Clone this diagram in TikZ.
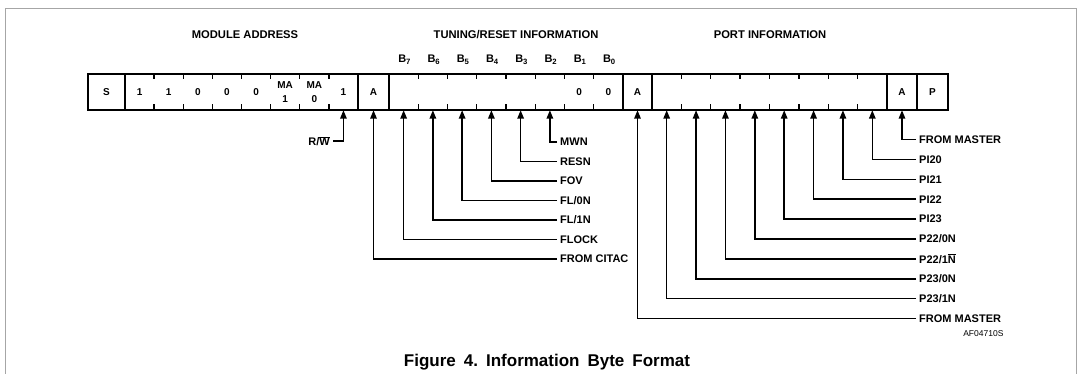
\documentclass[tikz,border=0pt]{standalone}
\usepackage{fontspec}
\setmainfont{Liberation Sans}
\usetikzlibrary{arrows.meta, positioning}

\tikzset{
  cell/.style={minimum width=29pt, minimum height=36pt, inner sep=0pt, font=\fontsize{10}{11}\selectfont\bfseries},
  lbl/.style={anchor=west, inner sep=3pt, font=\fontsize{11}{13}\selectfont\bfseries},
  head/.style={font=\fontsize{11.2}{13}\selectfont\bfseries},
  bitname/.style={font=\fontsize{11}{13}\selectfont\bfseries},
  sig/.style={line width=1.5pt, -{Triangle[width=6.5pt,length=8.5pt]}},
}

\begin{document}
\begin{tikzpicture}[x=1pt, y=-1pt]
  \useasboundingbox (0,0) rectangle (1080,374);
  \draw[gray!70, line width=0.8pt] (5,374) -- (5,8) -- (1076,8) -- (1076,374);

  \node[head] (hmod) at (245,35) {MODULE ADDRESS};
  \node[head] (htun) at (516,35) {TUNING/RESET INFORMATION};
  \node[head] (hport) at (770,35) {PORT INFORMATION};

  % register
  \draw[line width=2pt] (88,74) rectangle (948,110);
  \foreach \x in {125,358,389,623,652,887,917}
    \draw[line width=1.6pt] (\x,74) -- (\x,110);
  \foreach \s/\w in {125/29.125, 389/29.25, 652/29.375}
    \foreach \k in {1,...,7}
      \draw[line width=1.4pt] ({\s+\k*\w},74) -- ++(0,5.5) ({\s+\k*\w},110) -- ++(0,-5.5);

  \node[cell, minimum width=37pt] (s) at (106.5,92) {S};
  \foreach \i/\t in {0/1, 1/1, 2/0, 3/0, 4/0, 5/{MA\\[3pt]1}, 6/{MA\\[3pt]0}, 7/1}
    \node[cell, align=center] (m\i) at ({125+29.125*(\i+0.5)},92) {\t};
  \node[cell] (a1) at (373.5,92) {A};
  \foreach \i/\t in {0/{}, 1/{}, 2/{}, 3/{}, 4/{}, 5/{}, 6/0, 7/0}
    \node[cell] (t\i) at ({389+29.25*(\i+0.5)},92) {\t};
  \node[cell] (a2) at (637.5,92) {A};
  \foreach \i in {0,...,7}
    \node[cell] (p\i) at ({652+29.375*(\i+0.5)},92) {};
  \node[cell] (a3) at (902,92) {A};
  \node[cell, minimum width=31pt] (pp) at (932.5,92) {P};

  \foreach \i/\n in {0/7, 1/6, 2/5, 3/4, 4/3, 5/2, 6/1, 7/0}
    \node[bitname] (b\n) at ({390+29.25*(\i+0.5)},60) {B\textsubscript{\n}};

  % tuning/reset signals
  \node[lbl, anchor=east] (rw) at (333,141) {R/$\overline{\mbox{W}}$};
  \draw[sig] (rw.east) -| (m7.south);
  \foreach \c/\n/\t [count=\k from 0] in {t5/mwn/MWN, t4/resn/RESN, t3/fov/FOV,
      t2/flzero/{FL/0N}, t1/flone/{FL/1N}, t0/flock/FLOCK, a1/citac/{FROM CITAC}} {
    \node[lbl] (\n) at (557,{142+19.5*\k}) {\t};
    \draw[sig] (\n.west) -| (\c.south);
  }

  % port signals
  \foreach \c/\n/\t [count=\k from 0] in {a3/mstrtop/{FROM MASTER}, p7/pitwenty/PI20,
      p6/pitwentyone/PI21, p5/pitwentytwo/PI22, p4/pitwentythree/PI23,
      p3/ptwotwozero/{P22/0N}, p2/ptwotwoone/{P22/1$\overline{\mbox{N}}$},
      p1/ptwothreezero/{P23/0N}, p0/ptwothreeone/{P23/1N}, a2/mstrbot/{FROM MASTER}} {
    \node[lbl] (\n) at (916,{139.5+19.9*\k}) {\t};
    \draw[sig] (\n.west) -| (\c.south);
  }

  \node[font=\fontsize{8.5}{10}\selectfont, anchor=east] (afno) at (1007,334) {AF04710S};
  \node[font=\fontsize{17}{20}\selectfont\bfseries] (cap) at (547,362)
    {\frenchspacing\spaceskip=8pt Figure 4. Information Byte Format};
\end{tikzpicture}
\end{document}
